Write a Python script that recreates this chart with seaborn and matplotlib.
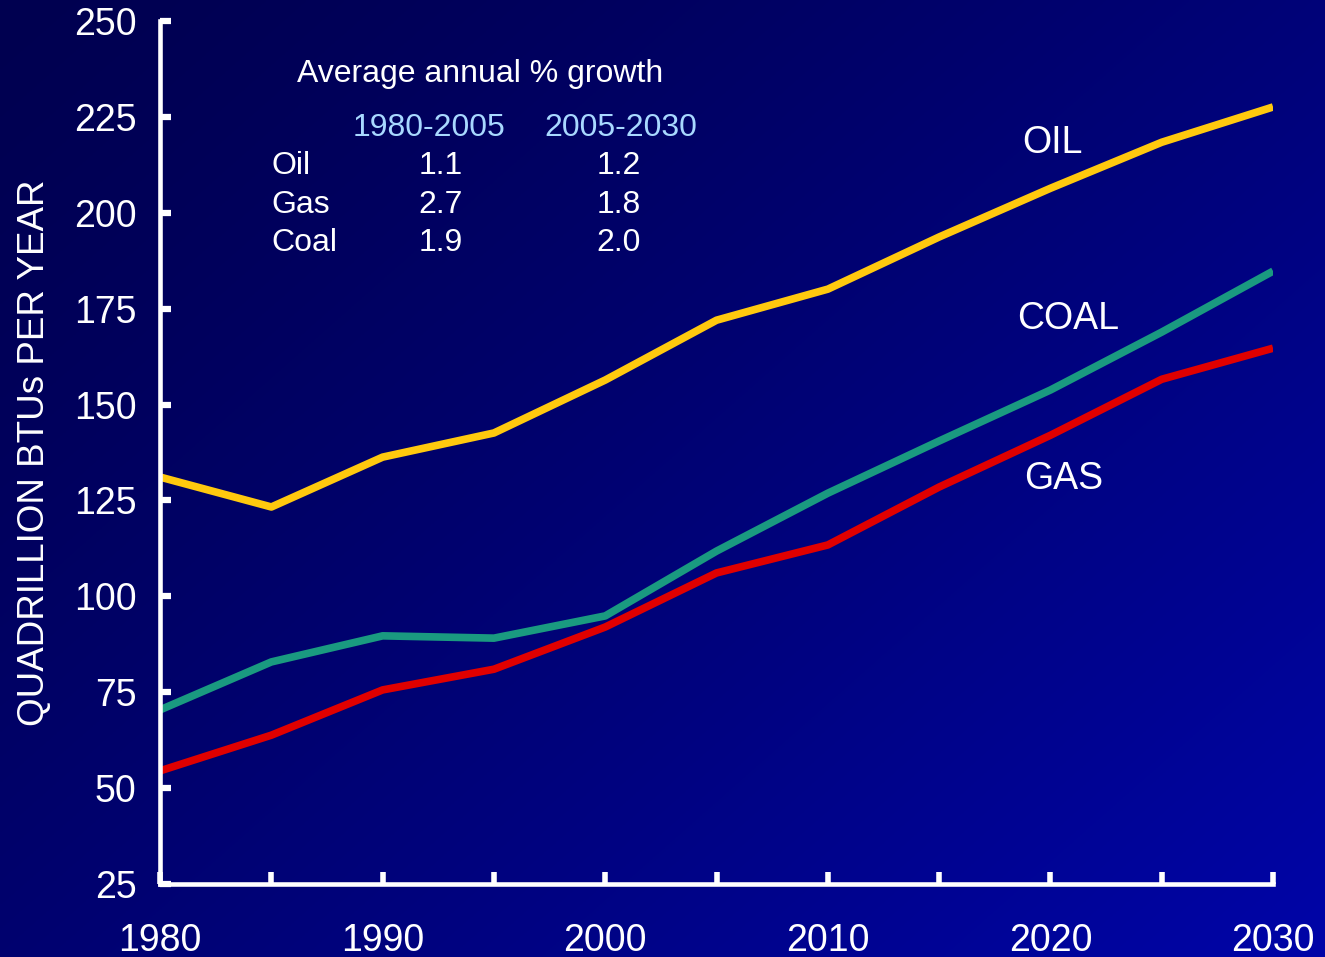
import numpy as np
import pandas as pd
import matplotlib
matplotlib.use("Agg")
import matplotlib.pyplot as plt
import seaborn as sns

# Energy consumption by fuel, quadrillion BTUs per year
years = [1980, 1985, 1990, 1995, 2000, 2005, 2010, 2015, 2020, 2025, 2030]
oil = [131.1, 123.3, 136.3, 142.6, 156.4, 172.0, 180.1, 193.7, 206.4, 218.4, 227.6]
coal = [70.4, 82.9, 89.7, 89.1, 94.9, 111.8, 126.9, 140.5, 153.8, 168.9, 184.8]
gas = [54.5, 63.8, 75.6, 81.0, 92.0, 106.1, 113.4, 128.5, 142.0, 156.6, 164.7]

# Growth table
growth_periods = ["1980-2005", "2005-2030"]
growth_fuels = ["Oil", "Gas", "Coal"]
growth_early = ["1.1", "2.7", "1.9"]
growth_late = ["1.2", "1.8", "2.0"]

y_ticks = [25, 50, 75, 100, 125, 150, 175, 200, 225, 250]
x_ticks = [1980, 1990, 2000, 2010, 2020, 2030]

sns.set_theme(style="white")
plt.rcParams["font.family"] = ["Liberation Sans", "DejaVu Sans"]

df = pd.DataFrame({
    "year": years * 3,
    "value": oil + coal + gas,
    "fuel": ["OIL"] * len(years) + ["COAL"] * len(years) + ["GAS"] * len(years),
})
palette = {"OIL": "#FFC90E", "COAL": "#1A9A80", "GAS": "#E00000"}

fig = plt.figure(figsize=(13.25, 9.57), dpi=100)

# Diagonal navy-to-blue backdrop
bg = fig.add_axes([0, 0, 1, 1], zorder=0)
gx, gy = np.meshgrid(np.linspace(0, 1, 400), np.linspace(0, 1, 400))
t = np.clip(0.55 * gx + 0.45 * gy, 0, 1) ** 1.3
c0 = np.array([0x00, 0x00, 0x50]) / 255
c1 = np.array([0x00, 0x05, 0xA8]) / 255
img = c0[None, None, :] * (1 - t[..., None]) + c1[None, None, :] * t[..., None]
bg.imshow(img, aspect="auto", extent=[0, 1, 0, 1], origin="upper")
bg.axis("off")

ax = fig.add_axes([0.1208, 0.0763, 0.840, 0.9017], zorder=1)
ax.set_facecolor("none")

sns.lineplot(data=df, x="year", y="value", hue="fuel", palette=palette,
             linewidth=5.5, legend=False, ax=ax, solid_capstyle="butt")

ax.set_xlim(1980, 2030)
ax.set_ylim(25, 250)
ax.set_yticks(y_ticks)
ax.set_xticks(x_ticks)
ax.set_xticks(range(1985, 2030, 10), minor=True)

for side in ["top", "right"]:
    ax.spines[side].set_visible(False)
for side in ["left", "bottom"]:
    ax.spines[side].set_color("white")
    ax.spines[side].set_linewidth(3.3)
    ax.spines[side].set_capstyle("projecting")

ax.tick_params(axis="y", which="major", left=True, direction="in", length=8, width=4.5,
               color="white", labelcolor="white", labelsize=27, pad=17)
ax.tick_params(axis="x", which="both", bottom=True, direction="in", length=9, width=4,
               color="white", labelcolor="white", labelsize=27, pad=28)
ax.tick_params(axis="x", which="minor", labelbottom=False)

ax.set_xlabel("")
ax.set_ylabel("QUADRILLION BTUs PER YEAR", color="white", fontsize=26.5, labelpad=16)

# Series labels
ax.text(2020.1, 218.2, "OIL", color="white", fontsize=27, ha="center", va="center")
ax.text(2020.8, 172.3, "COAL", color="white", fontsize=27, ha="center", va="center")
ax.text(2020.6, 130.6, "GAS", color="white", fontsize=27, ha="center", va="center")

# Growth table
ax.text(1994.4, 236.3, "Average annual % growth", color="white", fontsize=23,
        ha="center", va="center")
for x, label in zip([1992.1, 2000.7], growth_periods):
    ax.text(x, 222.2, label, color="#A8D8FF", fontsize=23, ha="center", va="center")
row_y = [212.3, 202.1, 192.2]
for y, fuel, a, b in zip(row_y, growth_fuels, growth_early, growth_late):
    ax.text(1985.0, y, fuel, color="white", fontsize=23, ha="left", va="center")
    ax.text(1992.6, y, a, color="white", fontsize=23, ha="center", va="center")
    ax.text(2000.6, y, b, color="white", fontsize=23, ha="center", va="center")

fig.savefig("out.png", dpi=100)
